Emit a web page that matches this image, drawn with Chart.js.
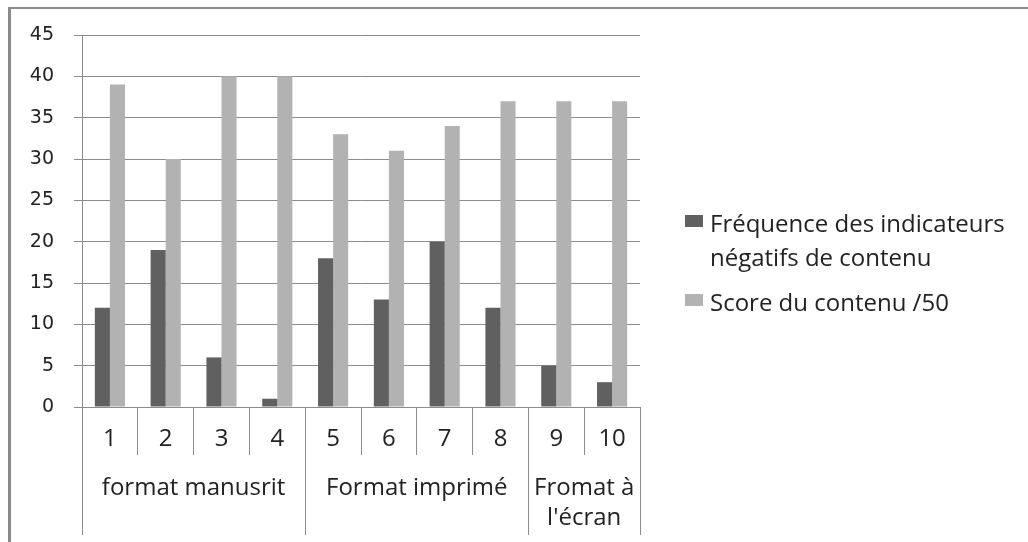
<!DOCTYPE html>
<html>
<head>
<meta charset="utf-8">
<script src="https://cdn.jsdelivr.net/npm/chart.js@4.4.1/dist/chart.umd.min.js"></script>
<style>
  html, body { margin: 0; padding: 0; background: #fff; }
  #wrap { position: relative; width: 1028px; height: 542px; overflow: hidden; background: #fff; }
  #chart { position: absolute; left: 0; top: 0; }
  #frame { position: absolute; left: 8px; top: 7px; width: 1100px; height: 600px;
           border-top: 2px solid #8a8a8a; border-left: 3px solid #8a8a8a; pointer-events: none; }
  #legend { position: absolute; left: 685px; top: 206px; font-family: "Open Sans", sans-serif;
            font-size: 24px; color: #222; }
  .item { position: relative; padding-left: 25px; line-height: 34px; margin-bottom: 11px; white-space: nowrap; }
  .sw { position: absolute; left: 0; top: 9px; width: 18px; height: 12px; }
</style>
</head>
<body>
<div id="wrap">
  <canvas id="chart" width="1028" height="542"></canvas>
  <div id="frame"></div>
  <div id="legend"></div>
</div>
<script>
const categories = ['1','2','3','4','5','6','7','8','9','10'];
const freqValues = [12, 19, 6, 1, 18, 13, 20, 12, 5, 3];
const scoreValues = [39, 30, 40, 40, 33, 31, 34, 37, 37, 37];
const seriesNames = [["Fréquence des indicateurs", "négatifs de contenu"], ["Score du contenu /50"]];
const seriesColors = ['#606060', '#b2b2b2'];
const groupNames = ['format manusrit', 'Format imprimé', ["Fromat à", "l'écran"]];
const groupSizes = [4, 4, 2];
const yMin = 0, yMax = 45, yStep = 5;

const gridGray = '#8c8c8c';
const textColor = '#222';

// group boundaries and centers (in category units)
const boundaries = [0];
const centers = [];
groupSizes.forEach((n, i) => { const s = boundaries[boundaries.length - 1]; centers.push(s + n / 2); boundaries.push(s + n); });
const groupTickVals = Array.from(new Set(boundaries.concat(centers))).sort((a, b) => a - b);

const catFont = { family: '"Open Sans", sans-serif', size: 24, lineHeight: 1.2 };

const chart = new Chart(document.getElementById('chart'), {
  type: 'bar',
  data: {
    labels: categories,
    datasets: [
      { label: seriesNames[0].join(' '), data: freqValues, backgroundColor: seriesColors[0], borderWidth: 0,
        barPercentage: 1, categoryPercentage: 0.54, xAxisID: 'x', yAxisID: 'y' },
      { label: seriesNames[1].join(' '), data: scoreValues, backgroundColor: seriesColors[1], borderWidth: 0,
        barPercentage: 1, categoryPercentage: 0.54, xAxisID: 'x', yAxisID: 'y' }
    ]
  },
  options: {
    responsive: false,
    animation: false,
    devicePixelRatio: 1,
    layout: { padding: { left: 0, right: 388, top: 35, bottom: 7 } },
    plugins: { legend: { display: false }, tooltip: { enabled: false } },
    scales: {
      x: {
        type: 'category',
        position: 'bottom',
        weight: 0,
        offset: true,
        grid: { offset: true, drawOnChartArea: false, drawTicks: true, tickLength: 48, color: gridGray, lineWidth: 1 },
        border: { display: true, color: gridGray, width: 1 },
        ticks: { font: catFont, color: textColor, padding: -30, maxRotation: 0, autoSkip: false },
        afterFit: (s) => { s.height = 48; }
      },
      x2: {
        type: 'linear',
        position: 'bottom',
        weight: 1,
        min: 0,
        max: categories.length,
        offset: false,
        afterBuildTicks: (s) => { s.ticks = groupTickVals.map(v => ({ value: v })); },
        grid: { offset: false, drawOnChartArea: false, drawTicks: true, tickLength: 80, lineWidth: 1,
                color: (ctx) => (ctx.tick && boundaries.includes(ctx.tick.value)) ? gridGray : 'rgba(0,0,0,0)' },
        border: { display: false },
        ticks: {
          autoSkip: false, maxRotation: 0, font: { family: '"Open Sans", sans-serif', size: 24, lineHeight: 1.25 },
          color: textColor, padding: -62,
          callback: (v) => { const i = centers.indexOf(v); return i >= 0 ? groupNames[i] : ''; }
        },
        afterFit: (s) => { s.height = 80; }
      },
      y: {
        type: 'linear',
        position: 'left',
        min: yMin,
        max: yMax,
        ticks: { stepSize: yStep, font: { family: '"DejaVu Sans", sans-serif', size: 19 }, color: textColor, padding: 20 },
        grid: { color: gridGray, lineWidth: 1, drawTicks: true, tickLength: 8 },
        border: { display: true, color: gridGray, width: 1 },
        afterFit: (s) => { s.width = 82; }
      }
    }
  }
});

// HTML legend built from dataset definitions
const legendEl = document.getElementById('legend');
chart.data.datasets.forEach((ds, i) => {
  const item = document.createElement('div');
  item.className = 'item';
  const sw = document.createElement('span');
  sw.className = 'sw';
  sw.style.background = ds.backgroundColor;
  item.appendChild(sw);
  seriesNames[i].forEach((line, j) => {
    if (j > 0) item.appendChild(document.createElement('br'));
    item.appendChild(document.createTextNode(line));
  });
  legendEl.appendChild(item);
});
</script>
</body>
</html>
